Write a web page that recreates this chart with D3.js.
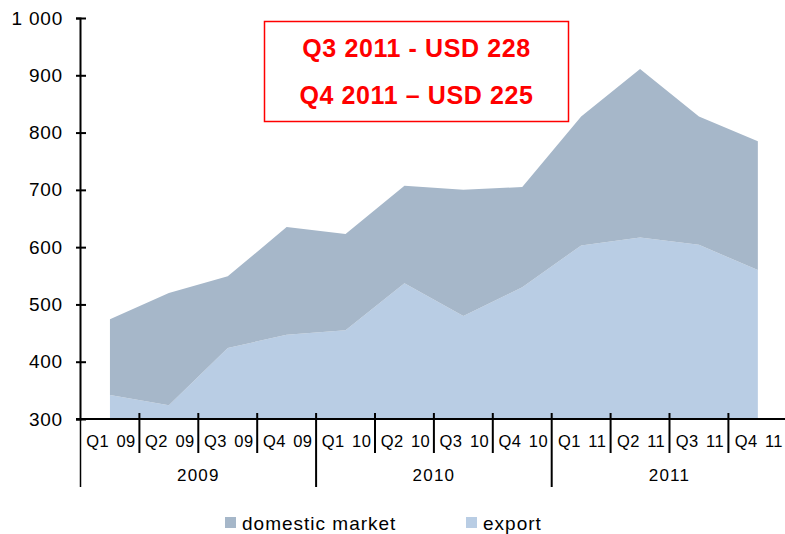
<!DOCTYPE html>
<html>
<head>
<meta charset="utf-8">
<script src="https://cdn.jsdelivr.net/npm/d3@7"></script>
<style>
    body { margin: 0; background: #fff; }
    svg { display: block; font-family: 'Liberation Sans', Arial, sans-serif; }
</style>
</head>
<body>
<svg id="chart"></svg>
<script>
// Data.
const quarters = ['Q1 09', 'Q2 09', 'Q3 09', 'Q4 09', 'Q1 10', 'Q2 10', 'Q3 10', 'Q4 10', 'Q1 11', 'Q2 11', 'Q3 11', 'Q4 11'];
const years = ['2009', '2010', '2011'];
const exportValues = [342, 324, 424, 447, 455, 537, 480, 530, 603, 617, 604, 560];
const domesticValues = [132, 196, 125, 188, 168, 170, 220, 175, 225, 294, 224, 225];
const yTicks = [300, 400, 500, 600, 700, 800, 900, 1000];
const noteLines = ['Q3 2011 - USD 228', 'Q4 2011 \u2013 USD 225'];

const width = 785, height = 534;
const colors = { domestic: '#a6b7c9', export: '#b9cde4' };

const svg = d3.select('#chart').attr('width', width).attr('height', height);

// Scales.
const x = d3.scaleBand().domain(quarters).range([80.5, 787.3]);
const y = d3.scaleLinear().domain([300, 1000]).range([419, 18]);
const cx = q => x(q) + x.bandwidth() / 2;

// Stacked areas: export at the bottom, domestic market on top.
const rows = quarters.map((q, i) => ({ q, export: exportValues[i], domestic: domesticValues[i] }));
const series = d3.stack().keys(['export', 'domestic'])(rows);

const area = d3.area()
    .x(d => cx(d.data.q))
    .y0(d => y(Math.max(300, d[0]))) // axis floor is 300
    .y1(d => y(d[1]));

svg.append('g')
    .selectAll('path')
    .data(series)
    .join('path')
    .attr('fill', d => colors[d.key])
    .attr('d', area);

// Y axis.
const fmt = d3.formatLocale({ decimal: ',', thousands: ' ', grouping: [3], currency: ['', ''] }).format(',');
const yAxis = svg.append('g')
    .attr('transform', 'translate(80,0)')
    .call(d3.axisLeft(y).tickValues(yTicks).tickFormat(fmt).tickSizeOuter(0).tickSize(4));
yAxis.select('.domain').attr('stroke', '#000').attr('stroke-width', 2);
yAxis.selectAll('.tick line').attr('x1', 6).attr('x2', -4).attr('stroke', '#000').attr('stroke-width', 2);
yAxis.selectAll('.tick text')
    .attr('x', -17)
    .attr('font-size', 19)
    .attr('letter-spacing', 0.8)
    .attr('fill', '#000')
    .attr('font-family', "'Liberation Sans', Arial, sans-serif");

// X axis: baseline, quarter separators and year separators.
const xAxis = svg.append('g');
xAxis.append('line')
    .attr('x1', 76).attr('x2', width)
    .attr('y1', y(300)).attr('y2', y(300))
    .attr('stroke', '#000').attr('stroke-width', 2);

xAxis.selectAll('.qtick')
    .data(quarters.filter((q, i) => i > 0 && i % 4 !== 0))
    .join('line')
    .attr('x1', q => x(q)).attr('x2', q => x(q))
    .attr('y1', 413).attr('y2', 453)
    .attr('stroke', '#000').attr('stroke-width', 2);

xAxis.selectAll('.ytick')
    .data(quarters.filter((q, i) => i % 4 === 0))
    .join('line')
    .attr('x1', q => x(q)).attr('x2', q => x(q))
    .attr('y1', (q, i) => (i === 0 ? 419 : 413)).attr('y2', 487)
    .attr('stroke', '#000').attr('stroke-width', (q, i) => (i === 0 ? 1.5 : 2));

xAxis.selectAll('.qlabel')
    .data(quarters)
    .join('text')
    .attr('x', q => cx(q) + 1)
    .attr('y', 447)
    .attr('text-anchor', 'middle')
    .attr('font-size', 16.5)
    .attr('word-spacing', 2.5)
    .attr('letter-spacing', 0.4)
    .text(q => q);

xAxis.selectAll('.ylabel')
    .data(years)
    .join('text')
    .attr('x', (yr, i) => x(quarters[i * 4]) + x.bandwidth() * 2)
    .attr('y', 481)
    .attr('text-anchor', 'middle')
    .attr('font-size', 17)
    .attr('letter-spacing', 1.2)
    .text(yr => yr);

// Price note box.
const note = svg.append('g');
note.append('rect')
    .attr('x', 264.5).attr('y', 21.5)
    .attr('width', 304).attr('height', 100)
    .attr('fill', '#fff')
    .attr('stroke', '#ff0000').attr('stroke-width', 1.5);
note.selectAll('text')
    .data(noteLines)
    .join('text')
    .attr('x', 416.5)
    .attr('y', (d, i) => 57 + i * 47)
    .attr('text-anchor', 'middle')
    .attr('font-size', 25)
    .attr('letter-spacing', 0.6)
    .attr('font-weight', 'bold')
    .attr('fill', '#ff0000')
    .text(d => d);

// Legend.
const legendItems = [
    { key: 'domestic', label: 'domestic market', x: 225 },
    { key: 'export', label: 'export', x: 466 },
];
const legend = svg.append('g');
legend.selectAll('rect')
    .data(legendItems)
    .join('rect')
    .attr('x', d => d.x).attr('y', 517)
    .attr('width', 11).attr('height', 11)
    .attr('fill', d => colors[d.key]);
legend.selectAll('text')
    .data(legendItems)
    .join('text')
    .attr('x', d => d.x + 17)
    .attr('y', 530)
    .attr('font-size', 19)
    .attr('letter-spacing', 1)
    .text(d => d.label);
</script>
</body>
</html>
